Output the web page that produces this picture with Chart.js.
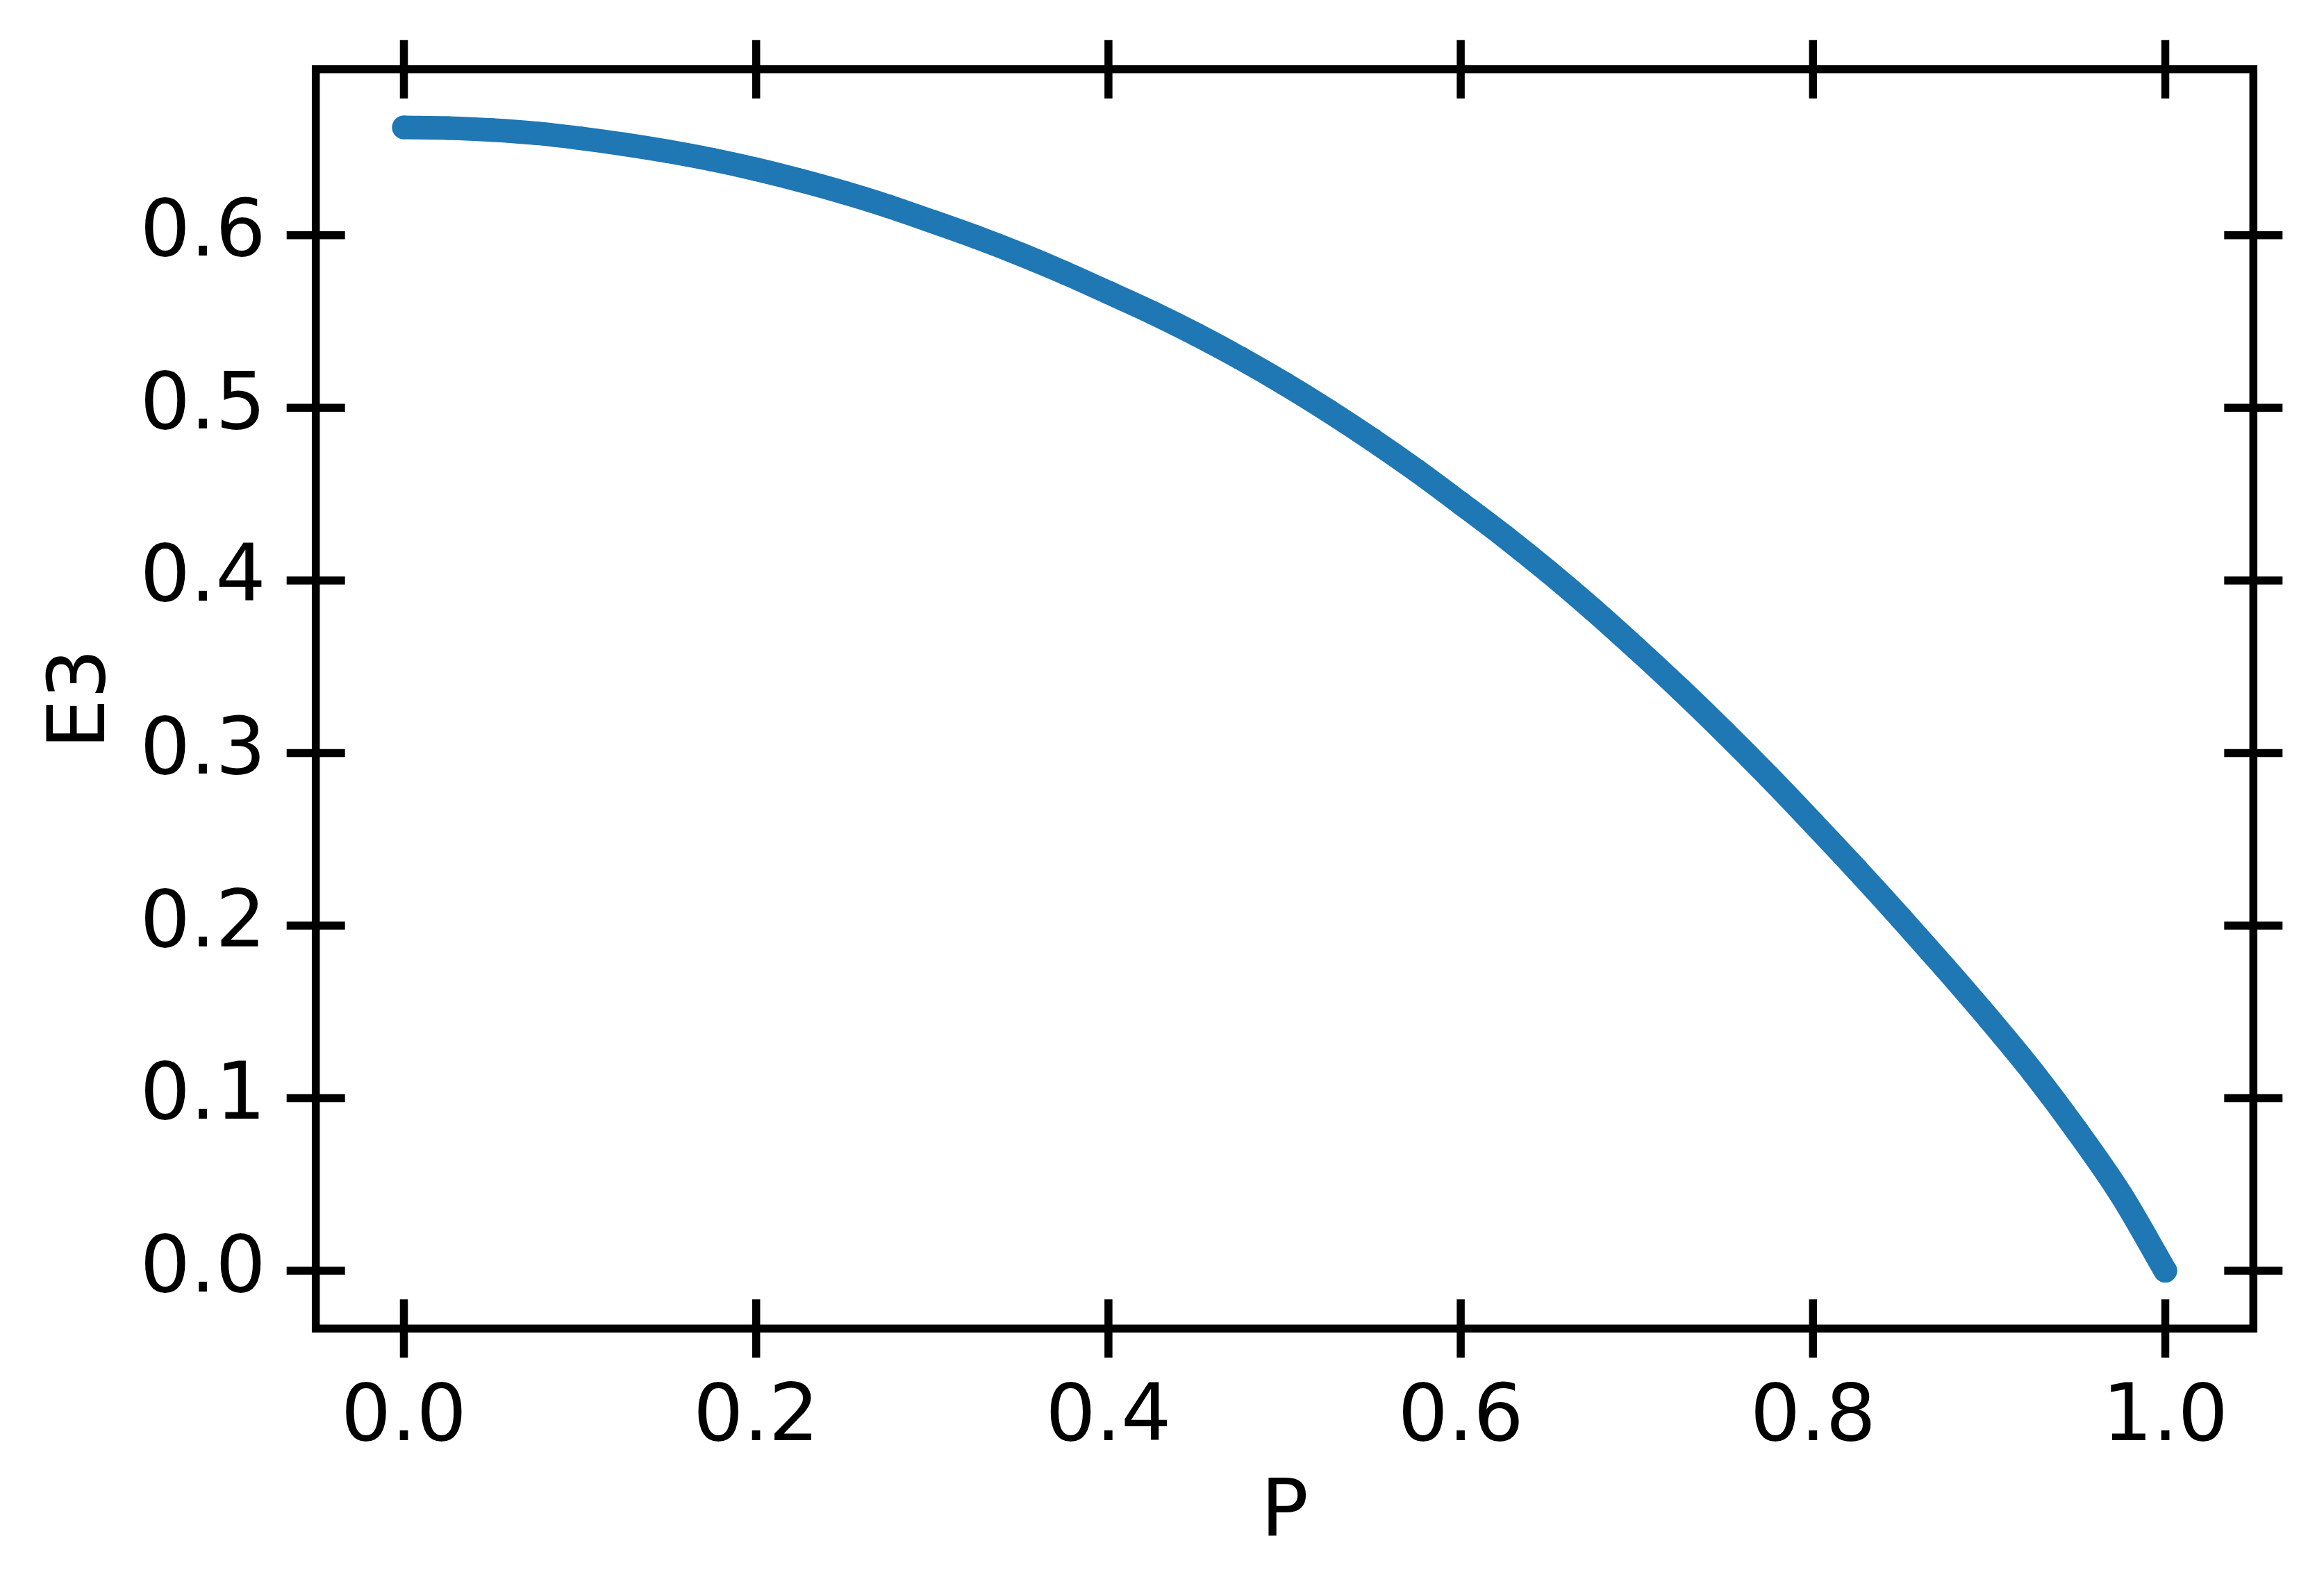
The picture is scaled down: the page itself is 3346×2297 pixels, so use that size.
<!DOCTYPE html>
<html>
<head>
<meta charset="utf-8">
<title>E3 vs P</title>
<script src="https://cdn.jsdelivr.net/npm/chart.js@4.4.1/dist/chart.umd.min.js"></script>
<style>
  html, body { margin: 0; padding: 0; background: #fff; }
  canvas { display: block; }
</style>
</head>
<body>
<canvas id="e3-chart" width="3346" height="2297" style="width:3346px;height:2297px"></canvas>
<script>
// Values
const pValues = [
  0.000, 0.025, 0.050, 0.075, 0.100, 0.125, 0.150, 0.175, 0.200, 0.225,
  0.250, 0.275, 0.300, 0.325, 0.350, 0.375, 0.400, 0.425, 0.450, 0.475,
  0.500, 0.525, 0.550, 0.575, 0.600, 0.625, 0.650, 0.675, 0.700, 0.725,
  0.750, 0.775, 0.800, 0.825, 0.850, 0.875, 0.900, 0.925, 0.950, 0.975,
  1.000
];
const e3Values = [
  0.6625, 0.6621, 0.6610, 0.6591, 0.6562, 0.6527, 0.6486, 0.6438, 0.6382, 0.6318,
  0.6247, 0.6168, 0.6080, 0.5989, 0.5890, 0.5783, 0.5668, 0.5551, 0.5424, 0.5287,
  0.5140, 0.4982, 0.4814, 0.4636, 0.4447, 0.4254, 0.4049, 0.3832, 0.3603, 0.3366,
  0.3119, 0.2862, 0.2595, 0.2323, 0.2043, 0.1755, 0.1459, 0.1149, 0.0809, 0.0439,
  0.0000
];
const xTickValues = [0, 0.2, 0.4, 0.6, 0.8, 1.0];
const yTickValues = [0, 0.1, 0.2, 0.3, 0.4, 0.5, 0.6];

const FONT = { family: 'DejaVu Sans', size: 114 };
const SPINE_WIDTH = 11.5;
const TICK_HALF = 42;

// matplotlib-style box with ticks crossing the spines on all four sides
const frameAndTicks = {
  id: 'frameAndTicks',
  afterDatasetsDraw(chart) {
    const { ctx, chartArea: a, scales: { x, y } } = chart;
    ctx.save();
    ctx.strokeStyle = '#000';
    ctx.lineWidth = SPINE_WIDTH;
    ctx.strokeRect(a.left, a.top, a.right - a.left, a.bottom - a.top);
    ctx.beginPath();
    x.ticks.forEach(t => {
      const px = x.getPixelForValue(t.value);
      ctx.moveTo(px, a.bottom - TICK_HALF); ctx.lineTo(px, a.bottom + TICK_HALF);
      ctx.moveTo(px, a.top - TICK_HALF); ctx.lineTo(px, a.top + TICK_HALF);
    });
    y.ticks.forEach(t => {
      const py = y.getPixelForValue(t.value);
      ctx.moveTo(a.left - TICK_HALF, py); ctx.lineTo(a.left + TICK_HALF, py);
      ctx.moveTo(a.right - TICK_HALF, py); ctx.lineTo(a.right + TICK_HALF, py);
    });
    ctx.stroke();
    ctx.restore();
  }
};

const ctx = document.getElementById('e3-chart').getContext('2d');
new Chart(ctx, {
  type: 'line',
  data: {
    datasets: [{
      label: 'E3',
      data: pValues.map((p, i) => ({ x: p, y: e3Values[i] })),
      borderColor: '#1f77b4',
      backgroundColor: '#1f77b4',
      borderWidth: 34,
      borderCapStyle: 'round',
      borderJoinStyle: 'round',
      cubicInterpolationMode: 'monotone',
      pointRadius: 17,
      pointBorderWidth: 0,
      pointBackgroundColor: '#1f77b4',
      fill: false
    }]
  },
  options: {
    responsive: false,
    devicePixelRatio: 1,
    animation: false,
    layout: { padding: { left: 0, top: 99.7, right: 101.7, bottom: 0 } },
    plugins: { legend: { display: false }, tooltip: { enabled: false } },
    scales: {
      x: {
        type: 'linear',
        position: 'bottom',
        min: -0.05,
        max: 1.05,
        afterBuildTicks: s => { s.ticks = xTickValues.map(v => ({ value: v })); },
        afterFit: s => { s.height = 383.7; s.paddingLeft = 0; s.paddingRight = 0; },
        grid: { display: false, drawTicks: false },
        border: { display: false },
        ticks: {
          font: FONT, color: '#000', padding: 63,
          maxRotation: 0, autoSkip: false,
          callback: v => v.toFixed(1)
        },
        title: { display: true, text: 'P', font: FONT, color: '#000', padding: { top: 0, bottom: 47 } }
      },
      y: {
        type: 'linear',
        position: 'left',
        min: -0.0335,
        max: 0.6962,
        afterBuildTicks: s => { s.ticks = yTickValues.map(v => ({ value: v })); },
        afterFit: s => { s.width = 454.7; s.paddingTop = 0; s.paddingBottom = 0; },
        grid: { display: false, drawTicks: false },
        border: { display: false },
        ticks: {
          font: FONT, color: '#000', padding: 72, autoSkip: false,
          callback: v => v.toFixed(1)
        },
        title: { display: true, text: 'E3', font: FONT, color: '#000', padding: { top: 52, bottom: 0 } }
      }
    }
  },
  plugins: [frameAndTicks]
});
</script>
</body>
</html>
